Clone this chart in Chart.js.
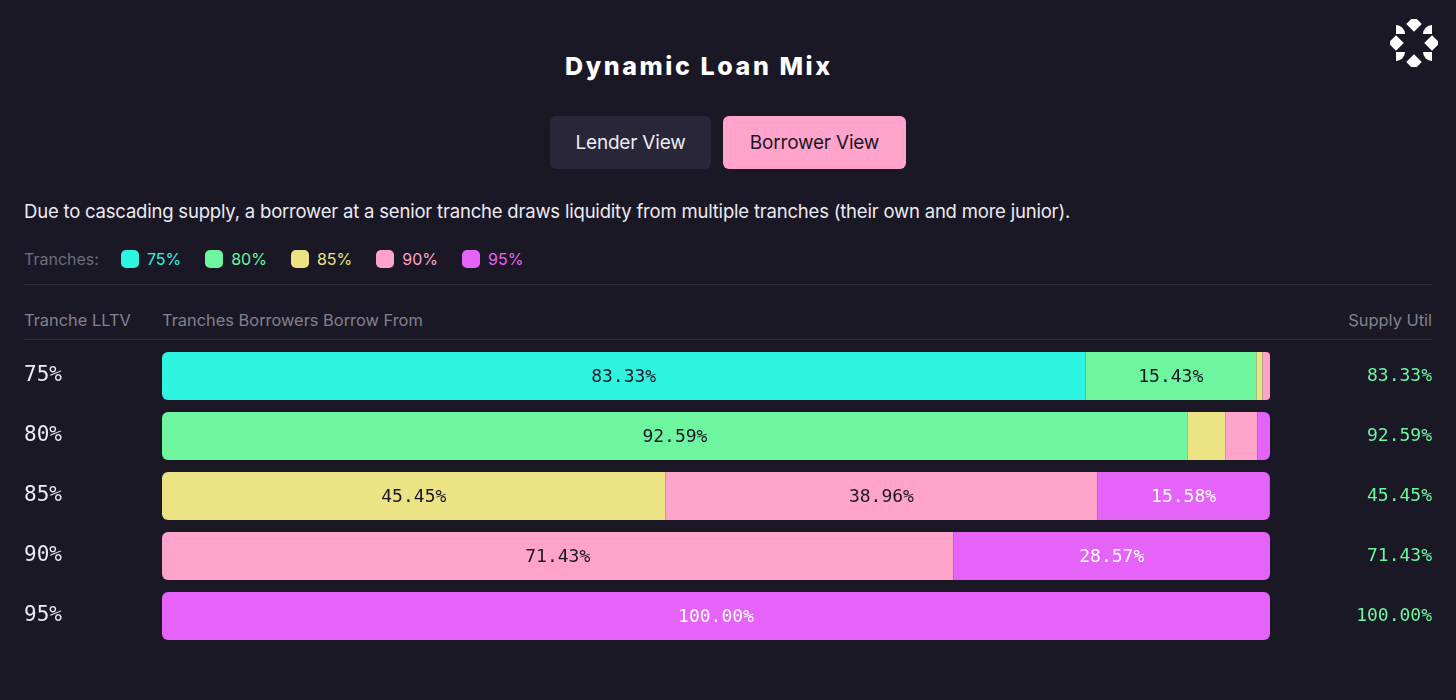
<!DOCTYPE html>
<html>
<head>
<meta charset="utf-8">
<script src="https://cdn.jsdelivr.net/npm/chart.js@4.4.1/dist/chart.umd.min.js"></script>
<style>
  body { margin: 0; background: #1b1826; width: 1456px; height: 700px; overflow: hidden; font-family: Inter, "Noto Sans", sans-serif; position: relative; }
  .abs { position: absolute; white-space: nowrap; }
  #title { left: 565px; top: 49px; font-size: 25px; font-weight: 800; color: #ffffff; letter-spacing: 2.6px; line-height: 34px; }
  .btn { top: 116px; height: 53px; border-radius: 6px; font-size: 19px; line-height: 53px; text-align: center; letter-spacing: -0.2px; }
  #lender { left: 550px; width: 161px; background: #29263a; color: #ecebf2; }
  #borrower { left: 723px; width: 183px; background: #ffa3ca; color: #1b1826; }
  #desc { left: 24px; top: 198px; font-size: 18.5px; color: #ecebf2; line-height: 26px; letter-spacing: -0.2px; }
  #legend { left: 24px; top: 247px; display: flex; align-items: center; font-size: 16px; line-height: 24px; }
  #legend .lbl { color: #6f6c7c; margin-right: 22px; }
  #legend .item { display: flex; align-items: center; margin-right: 24px; }
  #legend .sw { width: 18px; height: 18px; border-radius: 5px; margin-right: 8px; }
  .rule { left: 24px; width: 1408px; height: 1px; background: #2d2a39; }
  .head { top: 309px; font-size: 16.4px; color: #84818f; line-height: 22px; }
  #chartBox { left: 0; top: 346px; width: 1456px; height: 300px; }
</style>
</head>
<body>
<svg class="abs" style="left:1390px;top:19px" width="48" height="48" viewBox="0 0 48 48">
  <g fill="#ffffff">
    <rect x="18.5" y="-0.5" width="11" height="11" transform="rotate(45 24 5)"/>
    <rect x="18.5" y="37.5" width="11" height="11" transform="rotate(45 24 43)"/>
    <rect x="0.5" y="18.5" width="11" height="11" transform="rotate(45 6 24)"/>
    <rect x="36.5" y="18.5" width="11" height="11" transform="rotate(45 42 24)"/>
    <path d="M6 15 L6 6 A9 9 0 0 1 15 15 Z"/>
    <path d="M42 15 L42 6 A9 9 0 0 0 33 15 Z"/>
    <path d="M6 33 L6 42 A9 9 0 0 0 15 33 Z"/>
    <path d="M42 33 L42 42 A9 9 0 0 1 33 33 Z"/>
  </g>
</svg>
<div id="title" class="abs">Dynamic Loan Mix</div>
<div id="lender" class="abs btn">Lender View</div>
<div id="borrower" class="abs btn">Borrower View</div>
<div id="desc" class="abs">Due to cascading supply, a borrower at a senior tranche draws liquidity from multiple tranches (their own and more junior).</div>
<div id="legend" class="abs"></div>
<div class="abs rule" style="top:284px"></div>
<div class="abs head" style="left:24px">Tranche LLTV</div>
<div class="abs head" style="left:162px">Tranches Borrowers Borrow From</div>
<div class="abs head" style="right:24px">Supply Util</div>
<div class="abs rule" style="top:339px"></div>
<div id="chartBox" class="abs"><canvas id="loanMix"></canvas></div>

<script>
// rows = borrower tranche LLTV, series = tranche the liquidity comes from
const rowLabels = ['75%', '80%', '85%', '90%', '95%'];
const trancheNames = ['75%', '80%', '85%', '90%', '95%'];
const from75 = [83.33, 0, 0, 0, 0];
const from80 = [15.43, 92.59, 0, 0, 0];
const from85 = [0.56, 3.37, 45.45, 0, 0];
const from90 = [0.68, 2.89, 38.96, 71.43, 0];
const from95 = [0, 1.15, 15.58, 28.57, 100];
const supplyUtil = ['83.33%', '92.59%', '45.45%', '71.43%', '100.00%'];

const trancheColors = ['#2ef5e0', '#6df5a0', '#ebe384', '#ffa3ca', '#e563f8'];
const labelColors = ['#1b1826', '#1b1826', '#1b1826', '#1b1826', '#ffffff'];
const series = [from75, from80, from85, from90, from95];

// legend
const legend = document.getElementById('legend');
legend.innerHTML = '<span class="lbl">Tranches:</span>' + trancheNames.map((t, i) =>
  '<span class="item"><span class="sw" style="background:' + trancheColors[i] + '"></span>' +
  '<span style="color:' + trancheColors[i] + '">' + t + '</span></span>').join('');

// round only the outer ends of each row
function cornerRadius(ctx) {
  const row = ctx.dataIndex, ds = ctx.datasetIndex;
  const nonZero = series.map((s, i) => s[row] > 0 ? i : -1).filter(i => i >= 0);
  const first = nonZero[0], last = nonZero[nonZero.length - 1];
  const r = 6;
  return {
    topLeft: ds === first ? r : 0,
    bottomLeft: ds === first ? r : 0,
    topRight: ds === last ? r : 0,
    bottomRight: ds === last ? r : 0
  };
}

// no label padding above/below the rows
function fitRows(width) {
  return function(scale) {
    scale.width = width;
    scale.paddingTop = 0;
    scale.paddingBottom = 0;
  };
}

const segmentLabels = {
  id: 'segmentLabels',
  afterDatasetsDraw(chart) {
    const c = chart.ctx;
    c.save();
    c.font = '18px "DejaVu Sans Mono"';
    c.textAlign = 'center';
    c.textBaseline = 'middle';
    chart.data.datasets.forEach((ds, i) => {
      chart.getDatasetMeta(i).data.forEach((bar, j) => {
        const v = ds.data[j];
        if (v < 10) return;
        const p = bar.getProps(['x', 'y', 'base'], true);
        c.fillStyle = labelColors[i];
        c.fillText(v.toFixed(2) + '%', (p.x + p.base) / 2, p.y + 1);
      });
    });
    c.restore();
  }
};

new Chart(document.getElementById('loanMix'), {
  type: 'bar',
  data: {
    labels: rowLabels,
    datasets: series.map((s, i) => ({
      label: trancheNames[i],
      data: s,
      backgroundColor: trancheColors[i],
      borderSkipped: false,
      borderRadius: cornerRadius,
      barPercentage: 0.8,
      categoryPercentage: 1
    }))
  },
  options: {
    indexAxis: 'y',
    responsive: true,
    maintainAspectRatio: false,
    animation: false,
    events: [],
    layout: { padding: { left: 24, right: 24, top: 0, bottom: 0 } },
    plugins: { legend: { display: false }, tooltip: { enabled: false } },
    scales: {
      x: { stacked: true, min: 0, max: 100, display: false },
      y: {
        stacked: true,
        border: { display: false },
        grid: { display: false },
        afterFit: fitRows(138),
        ticks: { crossAlign: 'far', padding: 0, color: '#ecebf2', font: { family: 'DejaVu Sans Mono', size: 21 } }
      },
      y2: {
        type: 'category',
        position: 'right',
        labels: supplyUtil,
        offset: true,
        border: { display: false },
        grid: { display: false },
        afterFit: fitRows(162),
        ticks: { crossAlign: 'far', padding: 0, color: '#6df5a0', font: { family: 'DejaVu Sans Mono', size: 18 } }
      }
    }
  },
  plugins: [segmentLabels]
});
</script>
</body>
</html>
